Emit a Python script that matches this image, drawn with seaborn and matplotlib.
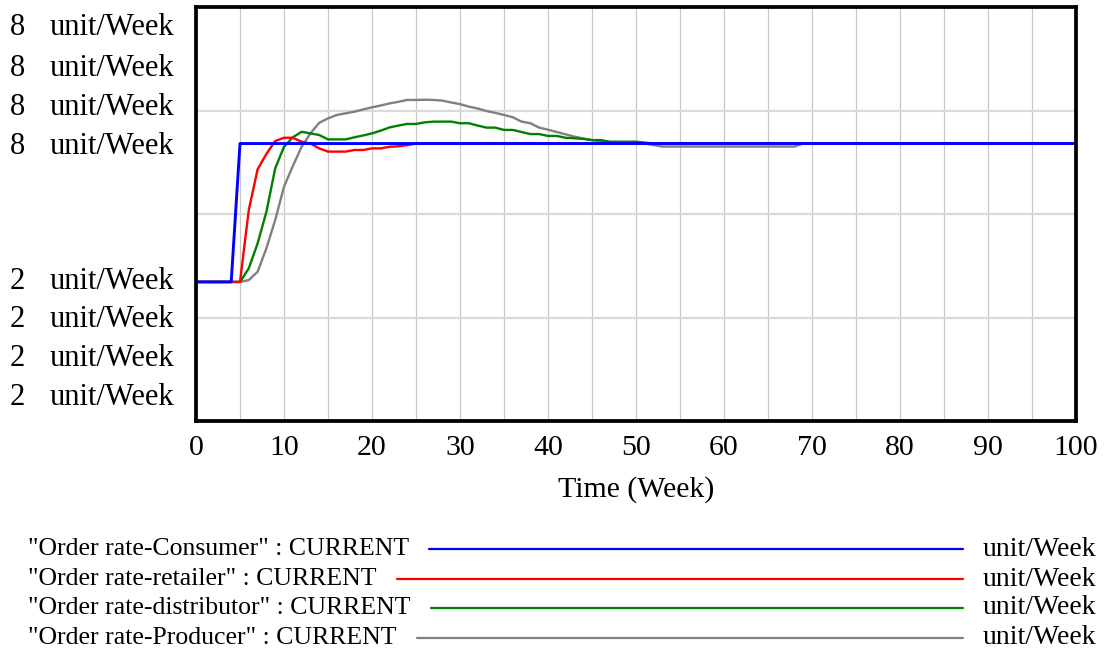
import numpy as np
import pandas as pd
import matplotlib
matplotlib.use("Agg")
import matplotlib.pyplot as plt
import seaborn as sns
from matplotlib.lines import Line2D
from matplotlib.transforms import blended_transform_factory

# ---------------- data ----------------
consumer_t = [0, 4, 5, 100]
consumer_v = [2, 2, 8, 8]

retailer_t = [0, 5, 6, 7, 8, 9, 10, 11, 12, 13, 14, 15, 16, 17, 18, 19, 20,
              21, 22, 23, 24, 25, 100]
retailer_v = [2, 2, 5.12, 6.88, 7.55, 8.11, 8.25, 8.25, 8.08, 8.0, 7.79, 7.65,
              7.65, 7.65, 7.72, 7.72, 7.79, 7.79, 7.86, 7.88, 7.93, 8.0, 8.0]

distributor_t = [0, 5, 6, 7, 8, 9, 10, 11, 12, 13, 14, 15, 16, 17, 18, 19, 20,
                 21, 22, 23, 24, 25, 26, 27, 28, 29, 30, 31, 32, 33, 34, 35, 36,
                 37, 38, 39, 40, 41, 42, 43, 44, 45, 46, 47, 48, 49, 50, 51, 52,
                 100]
distributor_v = [2, 2, 2.59, 3.67, 5.04, 6.92, 7.86, 8.27, 8.51, 8.44, 8.37,
                 8.18, 8.18, 8.18, 8.27, 8.35, 8.44, 8.56, 8.70, 8.78, 8.85,
                 8.85, 8.92, 8.95, 8.95, 8.95, 8.88, 8.88, 8.78, 8.69, 8.69,
                 8.59, 8.59, 8.50, 8.41, 8.41, 8.33, 8.33, 8.25, 8.23, 8.20,
                 8.15, 8.15, 8.08, 8.08, 8.08, 8.08, 8.04, 8.0, 8.0]

producer_t = [0, 5, 6, 7, 8, 9, 10, 11, 12, 13, 14, 15, 16, 17, 18, 19, 20,
              21, 22, 23, 24, 25, 26, 27, 28, 29, 30, 31, 32, 33, 34, 35, 36,
              37, 38, 39, 40, 41, 42, 43, 44, 45, 46, 47, 48, 49, 50, 51, 52,
              53, 68, 69, 100]
producer_v = [2, 2, 2.08, 2.44, 3.46, 4.68, 6.13, 7.02, 7.86, 8.44, 8.90, 9.09,
              9.24, 9.31, 9.38, 9.48, 9.57, 9.65, 9.74, 9.81, 9.89, 9.89, 9.90,
              9.89, 9.86, 9.78, 9.71, 9.60, 9.52, 9.41, 9.33, 9.24, 9.14, 8.95,
              8.88, 8.69, 8.60, 8.50, 8.40, 8.30, 8.22, 8.15, 8.10, 8.06, 8.03,
              8.02, 8.0, 8.0, 7.93, 7.87, 7.87, 8.0, 8.0]

series_names = ['"Order rate-Consumer" : CURRENT',
                '"Order rate-retailer" : CURRENT',
                '"Order rate-distributor" : CURRENT',
                '"Order rate-Producer" : CURRENT']
series_colors = ["#0000ff", "#ff0000", "#008000", "#808080"]
unit_label = "unit/Week"

x_ticks = [0, 10, 20, 30, 40, 50, 60, 70, 80, 90, 100]
y_label_values = [13.05, 11.27, 9.58, 7.85, 2.04, 0.39, -1.34, -3.03]
y_label_numbers = ["8", "8", "8", "8", "2", "2", "2", "2"]
x_title = "Time (Week)"

Y_MIN, Y_MAX = -4.03, 13.92

# ---------------- build frames ----------------
series_data = {}
for name, t, v in zip(series_names,
                      [consumer_t, retailer_t, distributor_t, producer_t],
                      [consumer_v, retailer_v, distributor_v, producer_v]):
    series_data[name] = pd.DataFrame({"t": t, "v": v})

sns.set_style("white")
plt.rcParams["font.family"] = ["Liberation Serif", "DejaVu Serif"]
plt.rcParams["text.color"] = "black"
plt.rcParams["xtick.color"] = "black"
plt.rcParams["ytick.color"] = "black"
plt.rcParams["axes.labelcolor"] = "black"

W, H = 1105, 652
fig = plt.figure(figsize=(W / 100, H / 100), dpi=100)
ax = fig.add_axes([196 / W, 1 - 421 / H, 880 / W, 414 / H])

# draw Producer first, Consumer last (on top)
widths = [2.1, 1.7, 1.7, 1.7]
for k in range(3, -1, -1):
    name = series_names[k]
    sns.lineplot(data=series_data[name], x="t", y="v", color=series_colors[k],
                 estimator=None, sort=False, linewidth=widths[k],
                 legend=False, ax=ax, zorder=5 - k)

ax.set_xlim(0, 100)
ax.set_ylim(Y_MIN, Y_MAX)

# grid
ax.set_xticks(x_ticks)
ax.set_xticks(np.arange(5, 100, 10), minor=True)
ax.grid(which="both", axis="x", color="#c8c8c8", linewidth=0.9)
ygrid = [Y_MIN + (Y_MAX - Y_MIN) * k / 4 for k in (1, 2, 3)]
ax.set_yticks(ygrid)
ax.grid(which="major", axis="y", color="#dadada", linewidth=1.6)
ax.set_axisbelow(True)

ax.tick_params(axis="x", which="both", length=0, pad=10, labelsize=21.5,
               labelcolor="black")
ax.tick_params(axis="y", which="both", direction="in", length=3,
               color="#999999", labelleft=False)
ax.set_xticklabels([str(x) for x in x_ticks])

for s in ax.spines.values():
    s.set_visible(True)
    s.set_color("black")
    s.set_linewidth(2.7)
    s.set_zorder(10)

ax.set_xlabel(x_title, fontsize=21.5, color="black")
ax.xaxis.set_label_coords(0.5, -0.133)
ax.set_ylabel("")

# y-axis labels (Vensim style)
tr = blended_transform_factory(fig.transFigure, ax.transData)
for val, num in zip(y_label_values, y_label_numbers):
    ax.text(10 / W, val, num, transform=tr, ha="left", va="center",
            fontsize=22, color="black", clip_on=False)
    ax.text(50 / W, val, unit_label, transform=tr, ha="left", va="center",
            fontsize=22, color="black", clip_on=False)

# Vensim style legend below
fig.canvas.draw()
renderer = fig.canvas.get_renderer()
row_y = [549, 579, 608, 638]
for name, color, yy in zip(series_names, series_colors, row_y):
    t = fig.text(28 / W, 1 - yy / H, name, ha="left", va="center",
                 fontsize=18.5, color="black")
    bb = t.get_window_extent(renderer)
    x0 = bb.x1 + 20
    fig.add_artist(Line2D([x0 / W, 963 / W], [1 - yy / H, 1 - yy / H],
                          transform=fig.transFigure, color=color, linewidth=1.6))
    fig.text(983 / W, 1 - yy / H, unit_label, ha="left", va="center",
             fontsize=20, color="black")

fig.savefig("out.png", dpi=100)
